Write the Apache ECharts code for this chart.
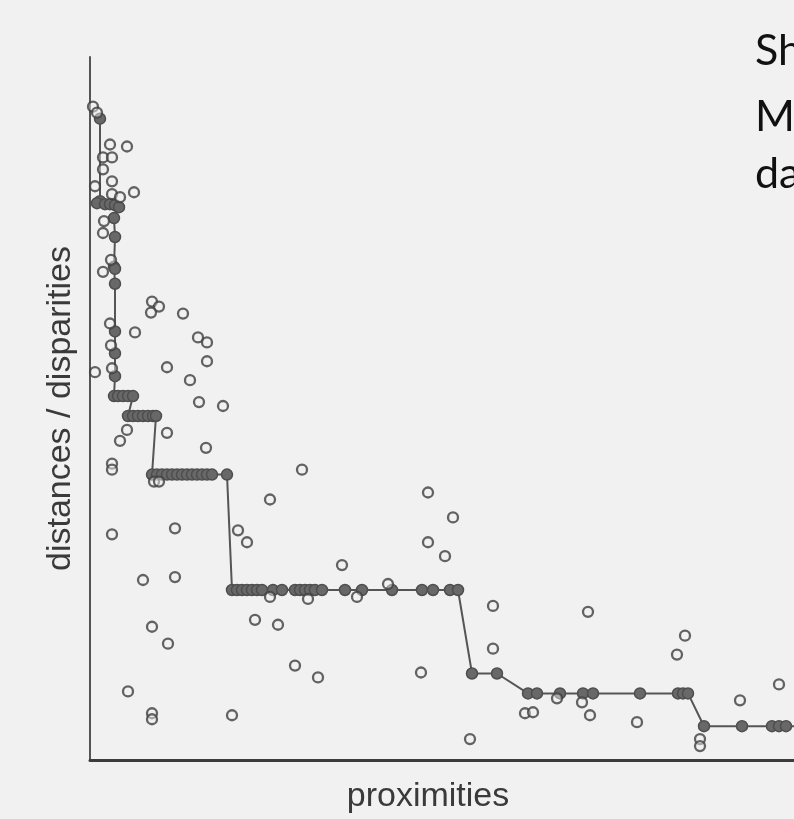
<!DOCTYPE html>
<html>
<head>
<meta charset="utf-8">
<script src="https://cdn.jsdelivr.net/npm/echarts@6/dist/echarts.min.js"></script>
<style>
html,body{margin:0;padding:0;background:#f1f1f1;}
#chart{width:794px;height:819px;}
</style>
</head>
<body>
<div id="chart"></div>
<script>
// Observed (open circles): proximity, distance
var openX = [3,7,20,37,13,22,13,22,5,44,22,30,14,13,21,13,62,69,61,93,20,45,108,117,21,117,77,22,5,100,109,133,37,77,30,116,22,22,64,69,212,180,338,363,85,22,148,157,338,355,252,85,53,298,180,218,267,403,498,165,188,62,78,403,595,587,205,228,331,689,38,650,467,492,435,443,62,62,142,500,547,380,610,610];
var openY = [657,651,619,617,606,606,594,582,577,571,569,566,542,530,503,491,461,456,450,449,439,430,425,420,417,401,395,394,390,382,360,356,332,329,321,314,298,292,280,280,292,262,269,244,233,227,231,219,219,205,196,184,181,177,164,162,164,155,149,141,136,134,117,112,125,106,95,83,88,76,69,60,62,58,47,48,47,41,45,45,38,21,21,14];
// Fitted disparities (filled circles on the monotone step line)
var fitX = [10,10,7,15,20,25,29,24,25,24,25,25,25,25,25,24,28,33,38,43,38,43,48,53,58,63,66,62,67,72,77,82,87,92,97,102,107,112,117,122,137,142,147,152,157,162,167,172,183,192,205,210,215,220,225,232,255,272,302,332,343,360,368,382,407,438,447,470,493,503,550,588,593,598,614,652,682,689,696,704];
var fitY = [645,562,560,559,559,558,556,545,526,496,494,479,431,409,386,366,366,366,366,366,346,346,346,346,346,346,346,287,287,287,287,287,287,287,287,287,287,287,287,287,287,171,171,171,171,171,171,171,171,171,171,171,171,171,171,171,171,171,171,171,171,171,171,87,87,67,67,67,67,67,67,67,67,67,34,34,34,34,34,34];
var xAxisName = 'proximities';
var yAxisName = 'distances / disparities';
var sideText = ['Sh','M','da'];

var openData = openX.map(function(x,i){return [x, openY[i]];});
var fitData = fitX.map(function(x,i){
  var item = {value:[x, fitY[i]]};
  if (i === fitX.length-1) item.symbol = 'none';
  return item;
});

var chart = echarts.init(document.getElementById('chart'), null, {renderer:'canvas'});
chart.setOption({
  backgroundColor:'#f1f1f1',
  animation:false,
  grid:{left:90, right:0, top:57, bottom:55, containLabel:false},
  xAxis:{
    type:'value', min:0, max:704,
    name:xAxisName, nameLocation:'middle', nameGap:20,
    nameTextStyle:{fontFamily:'Liberation Sans, Arial, sans-serif', fontSize:34, color:'#3a3a3a', padding:[0,28,0,0]},
    axisLine:{show:true, lineStyle:{color:'#3c3c3c', width:3}},
    axisTick:{show:false}, axisLabel:{show:false}, splitLine:{show:false}
  },
  yAxis:{
    type:'value', min:0, max:707,
    name:yAxisName, nameLocation:'middle', nameGap:12,
    nameTextStyle:{fontFamily:'Liberation Sans, Arial, sans-serif', fontSize:34, color:'#3a3a3a'},
    axisLine:{show:true, lineStyle:{color:'#555', width:2}},
    axisTick:{show:false}, axisLabel:{show:false}, splitLine:{show:false}
  },
  series:[
    {
      type:'line', data:fitData, clip:false,
      symbol:'circle', symbolSize:11, showAllSymbol:true,
      lineStyle:{color:'#555', width:2},
      itemStyle:{color:'#686868', borderColor:'#4e4e4e', borderWidth:1.5},
      z:2
    },
    {
      type:'scatter', data:openData,
      symbol:'circle', symbolSize:10,
      itemStyle:{color:'rgba(241,241,241,0.6)', borderColor:'#3e3e3e', borderWidth:2.3},
      z:3
    }
  ],
  graphic:[
    {type:'text', left:755, top:30, style:{text:sideText[0], font:'43px Lato, "Open Sans", sans-serif', fill:'#111'}},
    {type:'text', left:755, top:96, style:{text:sideText[1], font:'43px Lato, "Open Sans", sans-serif', fill:'#111'}},
    {type:'text', left:755, top:153, style:{text:sideText[2], font:'43px Lato, "Open Sans", sans-serif', fill:'#111'}}
  ]
});
</script>
</body>
</html>
